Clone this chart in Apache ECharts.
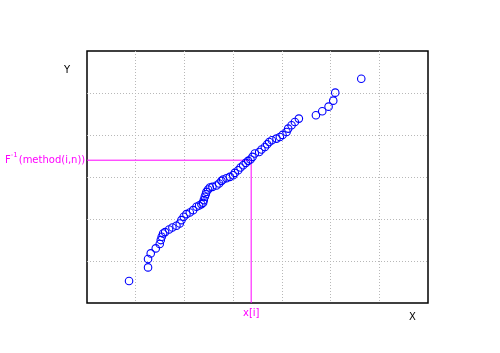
<!DOCTYPE html>
<html><head><meta charset="utf-8">
<script src="https://cdn.jsdelivr.net/npm/echarts@6/dist/echarts.min.js"></script>
<style>html,body{margin:0;padding:0;background:#fff}#c{width:500px;height:353px}</style>
</head><body><div id="c"></div>
<script>
const xValues = [0.863,1.253,1.253,1.308,1.411,1.493,1.514,1.534,1.562,1.603,1.685,1.753,1.836,1.904,1.938,1.986,2.041,2.110,2.178,2.247,2.301,2.349,2.384,2.397,2.418,2.438,2.452,2.486,2.521,2.575,2.658,2.712,2.760,2.795,2.863,2.932,3.000,3.034,3.103,3.151,3.205,3.260,3.308,3.356,3.397,3.445,3.534,3.582,3.651,3.699,3.740,3.795,3.890,3.959,4.014,4.096,4.130,4.199,4.267,4.349,4.699,4.829,4.959,5.055,5.096,5.630];
const yValues = [0.523,0.848,1.046,1.181,1.300,1.403,1.498,1.577,1.656,1.688,1.751,1.799,1.838,1.894,1.973,2.052,2.116,2.155,2.211,2.290,2.322,2.353,2.385,2.449,2.528,2.591,2.647,2.702,2.750,2.765,2.797,2.845,2.908,2.940,2.971,3.003,3.043,3.098,3.162,3.225,3.281,3.336,3.384,3.415,3.479,3.558,3.597,3.653,3.716,3.780,3.835,3.875,3.914,3.954,4.002,4.073,4.152,4.231,4.311,4.390,4.469,4.564,4.675,4.818,5.008,5.341];
const guideX = 3.37;
const guideY = 3.40;
const xLabel = "X", yLabel = "Y", guideXLabel = "x[i]";

const pts = xValues.map((x,i)=>[x,yValues[i]]);
const chart = echarts.init(document.getElementById('c'), null, {renderer:'canvas'});
const gridLine = {show:true, showMinLine:false, showMaxLine:false, lineStyle:{color:'#b8b8b8', type:[1,2], width:1}};
chart.setOption({
  animation:false,
  grid:{left:87, right:72, top:51, bottom:50, show:true, borderColor:'#000', borderWidth:1.5},
  xAxis:{type:'value', min:0, max:7, interval:1, axisLine:{show:false}, axisTick:{show:false}, axisLabel:{show:false}, splitLine:gridLine},
  yAxis:{type:'value', min:0, max:6, interval:1, axisLine:{show:false}, axisTick:{show:false}, axisLabel:{show:false}, splitLine:gridLine},
  series:[
    {type:'line', data:[[0,guideY],[guideX,guideY],[guideX,0]], symbol:'none', lineStyle:{color:'#ff00ff', width:1}, z:1},
    {type:'scatter', data:pts, symbol:'circle', symbolSize:7.5,
     itemStyle:{color:'rgba(0,0,0,0)', borderColor:'#0000ff', borderWidth:1.1, opacity:1}, z:3}
  ],
  graphic:[
    {type:'text', left:64, top:65, style:{text:yLabel, fontFamily:'DejaVu Sans', fontSize:10, fill:'#000'}},
    {type:'text', left:409, top:312, style:{text:xLabel, fontFamily:'DejaVu Sans', fontSize:10, fill:'#000'}},
    {type:'text', left:243, top:308, style:{text:guideXLabel, fontFamily:'DejaVu Sans', fontSize:10, fill:'#ff00ff'}},
    {type:'text', left:5, top:152, style:{
      text:'{a|F}{s|-1}{a|(method(i,n))}', fill:'#ff00ff',
      rich:{
        a:{fontFamily:'DejaVu Sans', fontSize:10, fill:'#ff00ff', color:'#ff00ff', verticalAlign:'bottom'},
        s:{fontFamily:'DejaVu Sans', fontSize:7, fill:'#ff00ff', color:'#ff00ff', verticalAlign:'top', padding:[0,1,6,0]}
      }}}
  ]
});
</script></body></html>
